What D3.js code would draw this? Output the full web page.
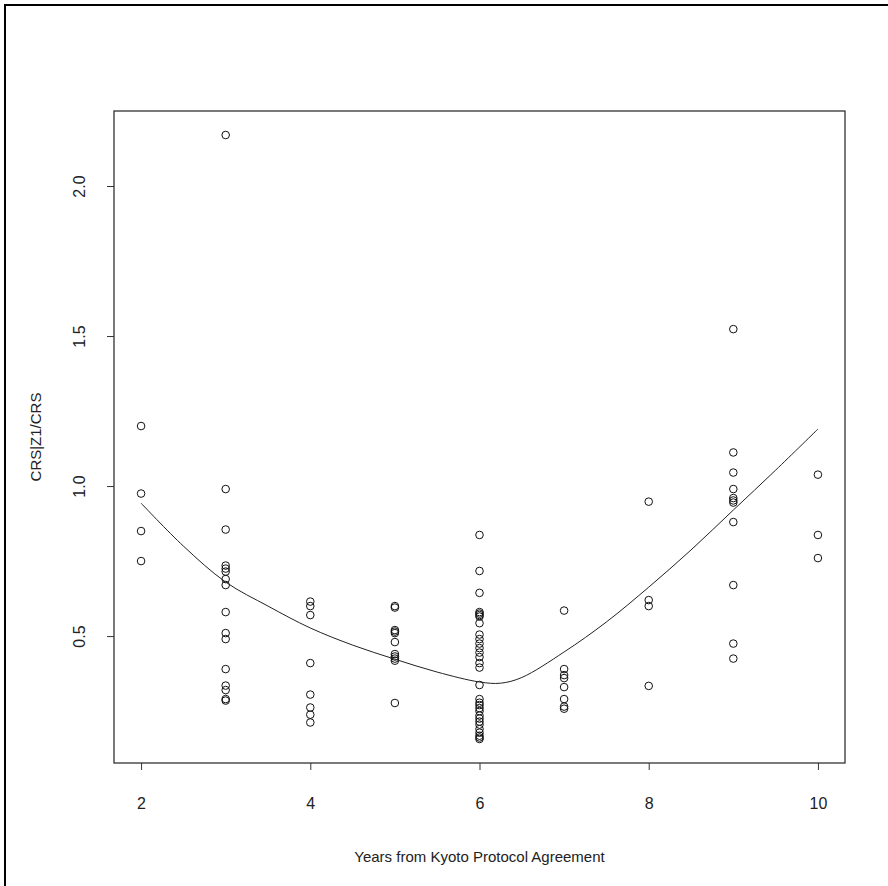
<!DOCTYPE html>
<html>
<head>
<meta charset="utf-8">
<script src="https://cdn.jsdelivr.net/npm/d3@7"></script>
<style>
  body { margin: 0; background: #fff; }
  text { font-family: "Liberation Sans", Arial, sans-serif; fill: #222; }
</style>
</head>
<body>
<div id="chart"></div>
<script>
// observations, one array of y values per year
const years = [2, 3, 4, 5, 6, 7, 8, 9, 10];
const obs = {
  2: [1.20, 0.975, 0.85, 0.75],
  3: [2.17, 0.99, 0.855, 0.735, 0.725, 0.715, 0.69, 0.67, 0.58, 0.51, 0.49, 0.39, 0.335, 0.32, 0.29, 0.285],
  4: [0.615, 0.60, 0.57, 0.41, 0.305, 0.262, 0.238, 0.212],
  5: [0.60, 0.595, 0.52, 0.515, 0.51, 0.48, 0.44, 0.432, 0.425, 0.418, 0.277],
  6: [0.837, 0.717, 0.644, 0.58, 0.575, 0.57, 0.565, 0.543, 0.505, 0.49, 0.475, 0.46, 0.445, 0.43, 0.41, 0.395, 0.337,
      0.29, 0.278, 0.27, 0.26, 0.25, 0.235, 0.225, 0.215, 0.205, 0.19, 0.178, 0.168, 0.162, 0.157],
  7: [0.585, 0.39, 0.37, 0.36, 0.33, 0.29, 0.265, 0.258],
  8: [0.948, 0.62, 0.60, 0.334],
  9: [1.523, 1.112, 1.045, 0.99, 0.96, 0.952, 0.945, 0.88, 0.67, 0.475, 0.425],
  10: [1.038, 0.837, 0.76]
};

// smoother
const fitX = [2, 2.5, 3, 3.5, 4, 4.5, 5, 5.5, 6, 6.25, 6.5, 7, 7.5, 8, 8.5, 9, 9.5, 10];
const fitY = [0.943, 0.80, 0.68, 0.60, 0.527, 0.47, 0.423, 0.38, 0.347, 0.343, 0.362, 0.447, 0.547, 0.663, 0.787, 0.92, 1.053, 1.19];

const xTicks = [2, 4, 6, 8, 10];
const yTicks = [0.5, 1.0, 1.5, 2.0];

const width = 888, height = 886;
const margin = { left: 114, right: 43, top: 111, bottom: 123 };

const svg = d3.select("#chart").append("svg")
  .attr("width", width)
  .attr("height", height);

// outer frame
svg.append("rect")
  .attr("x", 5).attr("y", 5)
  .attr("width", 1000).attr("height", 1000)
  .attr("fill", "none")
  .attr("stroke", "#000")
  .attr("stroke-width", 2);

const x = d3.scaleLinear()
  .domain([1.68, 10.32])
  .range([margin.left, width - margin.right]);

const y = d3.scaleLinear()
  .domain([0.077, 2.25])
  .range([height - margin.bottom, margin.top]);

const bottom = height - margin.bottom;

// points
const pts = [];
years.forEach(yr => obs[yr].forEach(v => pts.push({ yr: yr, v: v })));

svg.append("g")
  .selectAll("circle")
  .data(pts)
  .join("circle")
  .attr("cx", d => x(d.yr))
  .attr("cy", d => y(d.v))
  .attr("r", 3.8)
  .attr("fill", "none")
  .attr("stroke", "#111")
  .attr("stroke-width", 1);

// smooth curve
const line = d3.line()
  .x((d, i) => x(fitX[i]))
  .y(d => y(d))
  .curve(d3.curveCatmullRom);

svg.append("path")
  .datum(fitY)
  .attr("d", line)
  .attr("fill", "none")
  .attr("stroke", "#222")
  .attr("stroke-width", 1);

// box
svg.append("rect")
  .attr("x", margin.left)
  .attr("y", margin.top)
  .attr("width", width - margin.left - margin.right)
  .attr("height", bottom - margin.top)
  .attr("fill", "none")
  .attr("stroke", "#333")
  .attr("stroke-width", 1.3);

// x axis
const xAxis = svg.append("g")
  .attr("transform", "translate(0," + bottom + ")")
  .call(d3.axisBottom(x).tickValues(xTicks).tickSize(7).tickPadding(28).tickFormat(d3.format("d")));
xAxis.select(".domain").remove();
xAxis.selectAll("line").attr("stroke", "#333");
xAxis.selectAll("text").style("font-size", "16px").attr("fill", "#222");

// y axis
const yAxis = svg.append("g")
  .attr("transform", "translate(" + margin.left + ",0)")
  .call(d3.axisLeft(y).tickValues(yTicks).tickSize(7).tickFormat(d3.format(".1f")));
yAxis.select(".domain").remove();
yAxis.selectAll("line").attr("stroke", "#333");
yAxis.selectAll("text")
  .style("font-size", "16px")
  .attr("fill", "#222")
  .attr("text-anchor", "middle")
  .attr("x", 0).attr("dy", 0)
  .attr("transform", "translate(-29,0) rotate(-90)");

// axis titles
svg.append("text")
  .attr("x", (margin.left + width - margin.right) / 2)
  .attr("y", 862)
  .attr("text-anchor", "middle")
  .style("font-size", "15px")
  .text("Years from Kyoto Protocol Agreement");

svg.append("text")
  .attr("transform", "translate(41," + ((margin.top + bottom) / 2) + ") rotate(-90)")
  .attr("text-anchor", "middle")
  .style("font-size", "15px")
  .text("CRS|Z1/CRS");
</script>
</body>
</html>
